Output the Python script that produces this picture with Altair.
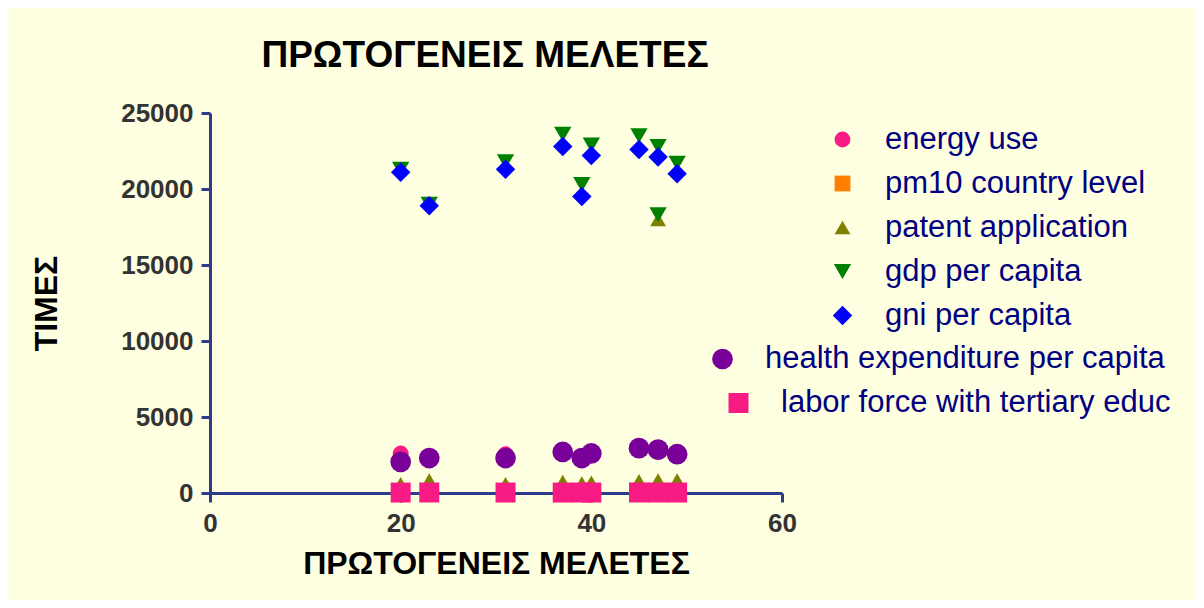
import altair as alt
import pandas as pd

# ---- data ----
study_counts = [20, 23, 31, 37, 39, 40, 45, 47, 49, 47]
energy_use = [2600, 2300, 2550, 2600, 2250, 2500, 2850, 2700, 2450, None]
pm10_country_level = [30, 25, 28, 30, 27, 26, 32, 31, 29, None]
patent_application = [600, 850, 600, 750, 650, 700, 800, 850, 850, 18000]
gdp_per_capita = [21300, 19000, 21800, 23600, 20300, 22900, 23500, 22800, 21700, 18300]
gni_per_capita = [21100, 18900, 21300, 22800, 19500, 22200, 22600, 22100, 21000, None]
health_expenditure = [2050, 2300, 2300, 2700, 2300, 2600, 2950, 2850, 2550, None]
labor_force_tertiary = [30, 35, 30, 28, 32, 30, 35, 33, 31, None]

series_names = [
    "energy use",
    "pm10 country level",
    "patent application",
    "gdp per capita",
    "gni per capita",
    "health expenditure per capita",
    "labor force with tertiary educ",
]
series_values = [
    energy_use,
    pm10_country_level,
    patent_application,
    gdp_per_capita,
    gni_per_capita,
    health_expenditure,
    labor_force_tertiary,
]
series_colors = ["#F81B84", "#FF8000", "#808000", "#008000", "#0000FF", "#780098", "#F81B84"]
series_shapes = ["circle", "square", "triangle-up", "triangle-down", "diamond", "circle", "square"]
series_sizes = [250, 250, 250, 300, 380, 430, 400]

rows = []
for order, (name, vals) in enumerate(zip(series_names, series_values)):
    for x, v in zip(study_counts, vals):
        if v is not None:
            rows.append({"x": x, "y": v, "series": name, "order": order})
df = pd.DataFrame(rows)

TITLE_FONT = "Liberation Sans, Arial"
LABEL_FONT = "Liberation Sans, Arial"
AXIS_COLOR = "#2E3B8A"

x_enc = alt.X(
    "x:Q",
    scale=alt.Scale(domain=[0, 60], nice=False, zero=True),
    axis=alt.Axis(
        values=[0, 20, 40, 60],
        title="ΠΡΩΤΟΓΕΝΕΙΣ ΜΕΛΕΤΕΣ",
        titleFont=TITLE_FONT,
        titleFontSize=32,
        titleFontWeight="bold",
        titleColor="black",
        titlePadding=12,
        labelFontSize=26,
        labelFont=LABEL_FONT,
        labelFontWeight="bold",
        labelColor="#333333",
        labelPadding=8,
        labelFlush=False,
        grid=False,
        domainColor=AXIS_COLOR,
        domainWidth=3,
        tickColor=AXIS_COLOR,
        tickWidth=3,
        tickSize=9,
    ),
)
y_enc = alt.Y(
    "y:Q",
    scale=alt.Scale(domain=[0, 25000], nice=False),
    axis=alt.Axis(
        values=[0, 5000, 10000, 15000, 20000, 25000],
        format="d",
        title="ΤΙΜΕΣ",
        titleFont=TITLE_FONT,
        titleFontSize=32,
        titleFontWeight="bold",
        titleColor="black",
        titlePadding=57,
        labelFontSize=26,
        labelFont=LABEL_FONT,
        labelFontWeight="bold",
        labelColor="#333333",
        labelPadding=8,
        labelFlush=False,
        grid=False,
        domainColor=AXIS_COLOR,
        domainWidth=3,
        tickColor=AXIS_COLOR,
        tickWidth=3,
        tickSize=9,
    ),
)


def layer(idx_list, legend_x, legend_y, label_offset):
    names = [series_names[i] for i in idx_list]
    legend = alt.Legend(
        title=None,
        orient="none",
        legendX=legend_x,
        legendY=legend_y,
        labelFont=LABEL_FONT,
        labelFontSize=31,
        labelColor="#000080",
        labelOffset=label_offset,
        rowPadding=12,
        padding=0,
        symbolOpacity=1,
        labelLimit=700,
    )
    return (
        alt.Chart(df)
        .transform_filter(alt.FieldOneOfPredicate(field="series", oneOf=names))
        .mark_point(filled=True, opacity=1, strokeWidth=0)
        .encode(
            x=x_enc,
            y=y_enc,
            color=alt.Color(
                "series:N",
                scale=alt.Scale(domain=names, range=[series_colors[i] for i in idx_list]),
                legend=legend,
            ),
            shape=alt.Shape(
                "series:N",
                scale=alt.Scale(domain=names, range=[series_shapes[i] for i in idx_list]),
                legend=legend,
            ),
            size=alt.Size(
                "series:N",
                scale=alt.Scale(
                    type="ordinal",
                    domain=names,
                    range=[series_sizes[i] for i in idx_list],
                ),
                legend=legend,
            ),
            order=alt.Order("order:Q"),
        )
    )


chart = (
    alt.layer(
        layer([0, 1, 2, 3, 4], 617, 11, 27),
        layer([5], 497, 230.5, 27),
        layer([6], 513, 274.5, 27),
    )
    .resolve_scale(color="independent", shape="independent", size="independent")
    .properties(
        width=572,
        height=380,
        autosize=alt.AutoSizeParams(type="none"),
        padding={"left": 202, "top": 105, "right": 414, "bottom": 107},
        background="#FEFEE0",
        title=alt.TitleParams(
            "ΠΡΩΤΟΓΕΝΕΙΣ ΜΕΛΕΤΕΣ",
            font=TITLE_FONT,
            fontSize=37,
            fontWeight="bold",
            color="black",
            anchor="middle",
            frame="group",
            dx=-11,
            offset=25,
        ),
    )
    .configure_view(stroke=None)
)

chart.save("out.html", embed_options={"renderer": "svg", "actions": False})
